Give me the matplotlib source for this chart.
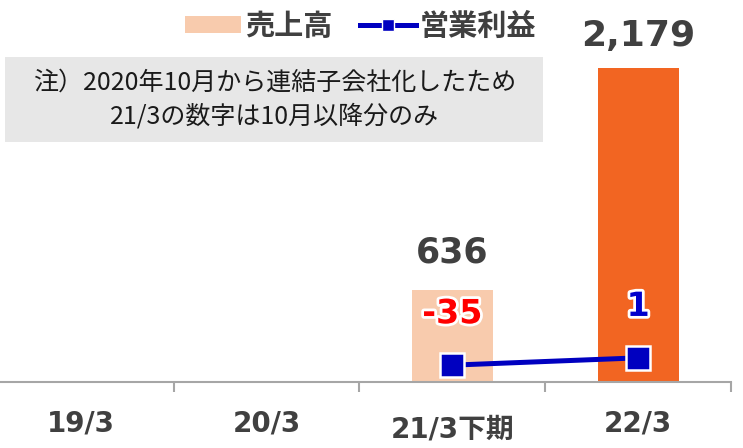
import matplotlib
matplotlib.use("Agg")
import matplotlib.pyplot as plt
import matplotlib.patheffects as pe
from matplotlib.patches import Rectangle, Patch
from matplotlib.lines import Line2D

plt.rcParams['font.family'] = ['DejaVu Sans', 'Noto Sans CJK JP']

categories = ["19/3", "20/3", "21/3下期", "22/3"]
sales = [None, None, 636, 2179]
sales_labels = ["", "", "636", "2,179"]
profit = [None, None, -35, 1]
profit_labels = ["", "", "-35", "1"]
profit_label_colors = ["", "", "#FF0000", "#0000CC"]
note_lines = ["注）2020年10月から連結子会社化したため", "21/3の数字は10月以降分のみ"]

bar_colors = ["#F8CBAD", "#F8CBAD", "#F8CBAD", "#F26522"]
dark = "#404040"
blue = "#0000C0"

fig = plt.figure(figsize=(7.43, 4.48), dpi=100)
ax = fig.add_axes([0, 66 / 448, 731 / 743, 382 / 448])

for i, v in enumerate(sales):
    if v is None:
        continue
    ax.bar(i, v, width=0.435, color=bar_colors[i], zorder=1)
    ax.annotate(sales_labels[i], (i, v), xytext=(0, 27 if v < 1000 else 23),
                textcoords="offset points", ha="center", va="center",
                fontsize=25 if v < 1000 else 26, fontweight="bold", color=dark)

ax.set_xlim(-0.435, 3.5)
ax.set_ylim(0, 2651)
for s in ["top", "right", "left"]:
    ax.spines[s].set_visible(False)
ax.spines["bottom"].set_color("#A6A6A6")
ax.spines["bottom"].set_linewidth(1.5)
ax.set_yticks([])
ax.set_xticks([0.5, 1.5, 2.5, 3.5])
ax.set_xticklabels([])
ax.tick_params(axis="x", length=7, width=1.5, color="#A6A6A6", direction="out")

for i, c in enumerate(categories):
    off = -34.5 if "下期" in c else -30
    ax.annotate(c, (i, 0), xycoords=ax.get_xaxis_transform(), xytext=(0, off),
                textcoords="offset points", ha="center", va="center",
                fontsize=20, fontweight="bold", color=dark, annotation_clip=False)

ax2 = ax.twinx()
ax2.set_ylim(-118, 1764)
for s in ax2.spines.values():
    s.set_visible(False)
ax2.set_yticks([])
px = [i for i, v in enumerate(profit) if v is not None]
py = [v for v in profit if v is not None]
ax2.plot(px, py, color=blue, lw=3.6, marker="s", markersize=17,
         markerfacecolor=blue, markeredgecolor="white", markeredgewidth=1.8, zorder=3)
for i in px:
    ax2.annotate(profit_labels[i], (i, profit[i]), xytext=(0, 37), textcoords="offset points",
                 ha="center", va="center", fontsize=24, fontweight="bold",
                 color=profit_label_colors[i],
                 path_effects=[pe.withStroke(linewidth=4, foreground="white")])

# note box
fig.patches.append(Rectangle((5 / 743, (448 - 142) / 448), 538 / 743, 85 / 448,
                             transform=fig.transFigure, facecolor="#E7E7E7",
                             edgecolor="none", zorder=0))
fig.text(275 / 743, (448 - 83) / 448, note_lines[0], ha="center", va="center",
         fontsize=18, color="#1A1A1A", family=['Noto Sans CJK JP'])
fig.text(275 / 743, (448 - 117) / 448, note_lines[1], ha="center", va="center",
         fontsize=18, color="#1A1A1A", family=['Noto Sans CJK JP'])

handles = [Patch(facecolor="#F8CBAD", edgecolor="none"),
           Line2D([], [], color=blue, lw=3.6, marker="s", markersize=9,
                  markerfacecolor=blue, markeredgecolor="white")]
leg = fig.legend(handles, ["売上高", "営業利益"], loc="center", ncol=2,
                 bbox_to_anchor=(361 / 743, (448 - 26) / 448), frameon=False,
                 handlelength=1.9, handleheight=0.55, handletextpad=0.15,
                 columnspacing=0.95, borderpad=0,
                 prop={"family": ['Noto Sans CJK JP'], "weight": "bold", "size": 21})
for t in leg.get_texts():
    t.set_color(dark)

fig.savefig("out.png", dpi=100)
